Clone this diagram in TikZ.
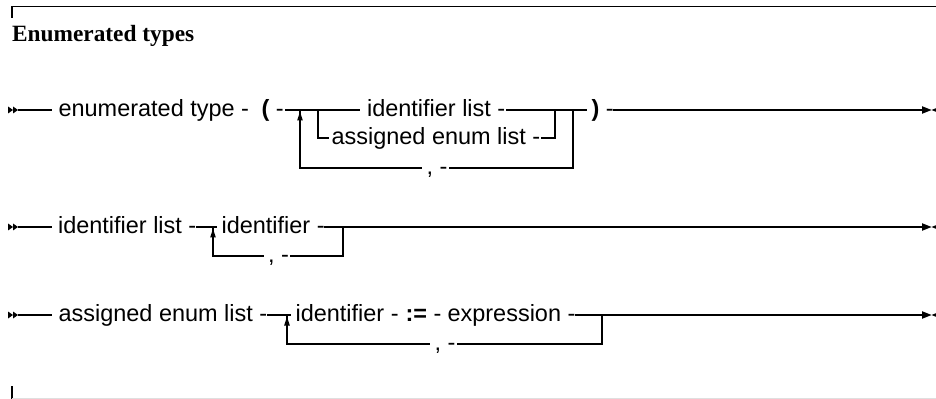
\documentclass[tikz,border=0pt]{standalone}
\usepackage{fontspec}
\newfontfamily\diagfont{Liberation Sans}
\newfontfamily\titlefont{Liberation Serif}
\begin{document}
\begin{tikzpicture}[x=0.75pt,y=-0.75pt,line width=0.9pt,
  lbl/.style={anchor=base west,inner sep=0pt,font=\diagfont\fontsize{17.6}{21}\selectfont},
  framel/.style={line width=0.9pt},
  begtip/.pic={\fill (0,-3.5) -- (5,0) -- (0,3.5) -- cycle; \fill (5,-3.5) -- (10,0) -- (5,3.5) -- cycle;},
  endtip/.pic={\fill (0,-3.8) -- (9.5,0) -- (0,3.8) -- cycle; \fill (19,-3.8) -- (9.5,0) -- (19,3.8) -- cycle;},
  uptip/.pic={\fill (0,0) -- (2.9,8.5) -- (-2.9,8.5) -- cycle;}
]
\useasboundingbox (0,0) rectangle (936,399);
\clip (0,0) rectangle (936,399);
% frame
\draw[framel] (12,18) -- (12,6.5) -- (945,6.5);
\draw[framel] (12,386) -- (12,405);
\draw[gray!25,line width=0.6pt] (12,398.5) -- (945,398.5);
\node[anchor=base west,inner sep=0pt,font=\titlefont\bfseries\fontsize{17.5}{21}\selectfont] (title) at (11.5,42) {Enumerated types};

% ---------- row 1 ----------
\pic at (8,110) {begtip};
\coordinate (a0) at (18,110);
\node[lbl] (a1) at (58,116.5) {enumerated type -};
\node[lbl] (a2) at (261,116.5) {\textbf{(} -};
\coordinate (aL) at (300,110);
\coordinate (aB) at (318,110);
\node[lbl] (a3) at (366.5,116.5) {identifier list -};
\node[lbl] (a4) at (331,144.5) {assigned enum list -};
\coordinate (aBR) at (555,110);
\coordinate (aR) at (573,110);
\node[lbl] (a5) at (426,174.5) {, -};
\node[lbl] (a6) at (591,116.5) {\textbf{)} -};
\coordinate (aE) at (922,110);
\draw (a0) -- (52,110);
\draw (285,110) -- (aL) -- (aB) -- (360,110);
\draw (aB) -- (318,138) -- (329,138);
\draw (506,110) -- (aBR) -- (aR) -- (587,110);
\draw (541,138) -- (555,138) -- (aBR);
\draw (aL) -- (300,168) -- (422,168);
\draw (449,168) -- (573,168) -- (aR);
\pic at (300,112) {uptip};
\draw (613,110) -- (aE);
\pic at (aE) {endtip};

% ---------- row 2 ----------
\pic at (8,227) {begtip};
\coordinate (b0) at (18,227);
\node[lbl] (b1) at (57.5,233.5) {identifier list -};
\coordinate (bL) at (213,227);
\node[lbl] (b2) at (221,233.5) {identifier -};
\coordinate (bR) at (343,227);
\node[lbl] (b3) at (267.5,262.5) {, -};
\coordinate (bE) at (922,227);
\draw (b0) -- (52,227);
\draw (196,227) -- (bL) -- (217,227);
\draw (324,227) -- (bR) -- (bE);
\draw (bL) -- (213,256) -- (264,256);
\draw (290,256) -- (343,256) -- (bR);
\pic at (213,229) {uptip};
\pic at (bE) {endtip};

% ---------- row 3 ----------
\pic at (8,315) {begtip};
\coordinate (c0) at (18,315);
\node[lbl] (c1) at (58,321.5) {assigned enum list -};
\coordinate (cL) at (287,315);
\node[lbl] (c2) at (295,321.5) {identifier -};
\node[lbl] (c3) at (405,321.5) {\textbf{:=} -};
\node[lbl] (c4) at (447,321.5) {expression -};
\coordinate (cR) at (602,315);
\node[lbl] (c5) at (434,350.5) {, -};
\coordinate (cE) at (922,315);
\draw (c0) -- (52,315);
\draw (267,315) -- (cL) -- (291,315);
\draw (575,315) -- (cR) -- (cE);
\draw (cL) -- (287,344) -- (430,344);
\draw (457,344) -- (602,344) -- (cR);
\pic at (287,317) {uptip};
\pic at (cE) {endtip};
\end{tikzpicture}
\end{document}
